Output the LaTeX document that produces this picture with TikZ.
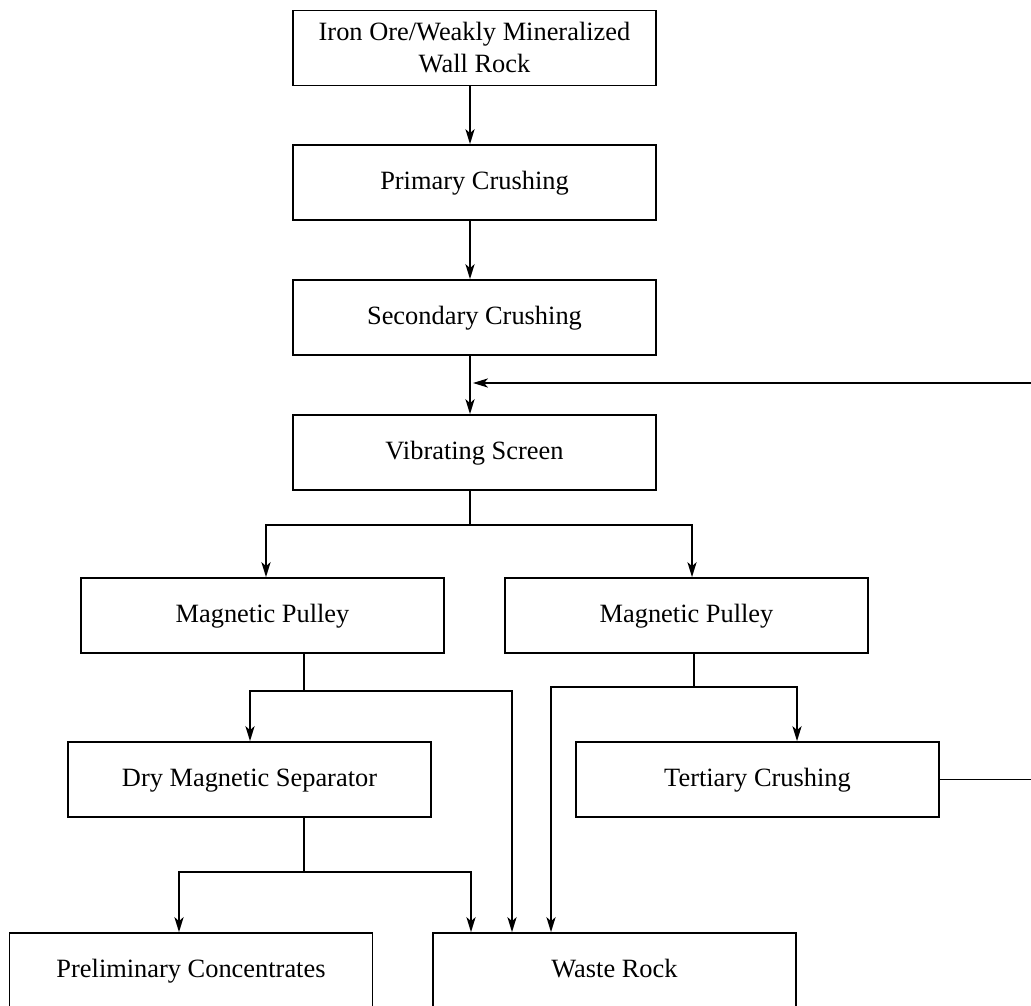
\documentclass[tikz,border=0pt]{standalone}
\usepackage{fontspec}
\setmainfont{Liberation Serif}
\usetikzlibrary{arrows.meta}
\begin{document}
\begin{tikzpicture}[x=0.5pt,y=-0.5pt,
  box/.style={draw, line width=0.9pt, minimum width=181.5pt, minimum height=37.5pt, inner sep=0pt,
    align=center, font=\fontsize{13.2}{16}\selectfont},
  onebox/.style={box, text height=0.72em, text depth=0pt},
  conn/.style={line width=0.7pt},
  arr/.style={conn, -{Stealth[length=7.5pt,width=4.6pt,inset=2pt]}}]
\useasboundingbox (0,0) rectangle (1031,1005);
\fill[white] (0,0) rectangle (1031,1005);
% nodes
\node[box] (top) at (474.5,48) {Iron Ore/Weakly Mineralized\\Wall Rock};
\node[onebox] (prim) at (474.5,182.5) {Primary Crushing};
\node[onebox] (sec) at (474.5,317.5) {Secondary Crushing};
\node[onebox] (vib) at (474.5,452.5) {Vibrating Screen};
\node[onebox] (mpl) at (262.5,615.5) {Magnetic Pulley};
\node[onebox] (mpr) at (686.5,615.5) {Magnetic Pulley};
\node[onebox] (dms) at (249.5,779.5) {Dry Magnetic Separator};
\node[onebox] (ter) at (757.5,779.5) {Tertiary Crushing};
\node[onebox] (pre) at (191,970.5) {Preliminary Concentrates};
\node[onebox] (waste) at (614.5,970.5) {Waste Rock};
% column coordinates
\coordinate (xa) at (470,0);
\coordinate (fb) at (1040,383);
\coordinate (b1) at (470,525);
\coordinate (b2) at (304,691);
\coordinate (b3) at (694,687);
\coordinate (b4) at (304,872);
% main column
\draw[arr] (top.south -| xa) -- (prim.north -| xa);
\draw[arr] (prim.south -| xa) -- (sec.north -| xa);
\draw[arr] (sec.south -| xa) -- (vib.north -| xa);
% feedback from tertiary crushing
\draw[conn] (ter.east) -- (ter.east -| fb) -- (fb);
\draw[arr] (fb) -- (473,383);
% vibrating screen split
\draw[conn] (vib.south -| xa) -- (b1);
\draw[arr] (b1) -| (mpl.north -| 266,0);
\draw[arr] (b1) -| (mpr.north -| 692,0);
% left magnetic pulley
\draw[conn] (mpl.south -| b2) -- (b2);
\draw[arr] (b2) -| (dms.north -| 250,0);
\draw[arr] (b2) -| (waste.north -| 512,0);
% right magnetic pulley
\draw[conn] (mpr.south -| b3) -- (b3);
\draw[arr] (b3) -| (ter.north -| 797,0);
\draw[arr] (b3) -| (waste.north -| 551,0);
% dry magnetic separator
\draw[conn] (dms.south -| b4) -- (b4);
\draw[arr] (b4) -| (pre.north -| 179,0);
\draw[arr] (b4) -| (waste.north -| 471,0);
\end{tikzpicture}
\end{document}
